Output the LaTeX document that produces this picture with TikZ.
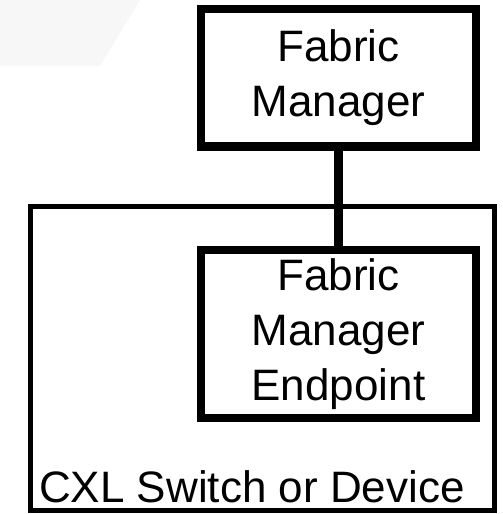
\documentclass[tikz,border=0pt]{standalone}
\usepackage{fontspec}
\setmainfont{Liberation Sans}
\usetikzlibrary{positioning}

\begin{document}
\begin{tikzpicture}[
  x=1pt, y=-1pt,
  fmbox/.style={
    rectangle, draw=black, line width=8.5pt,
    minimum width=275pt,
    font=\fontsize{44}{55}\selectfont,
    align=center, inner sep=0pt
  },
  fmlink/.style={draw=black, line width=8.5pt}
]
\useasboundingbox (0,0) rectangle (503,514);
% faint backdrop
\fill[black!3] (0,0) -- (140,0) -- (100,66) -- (0,66) -- cycle;

% outer switch box
\draw[line width=5pt] (30,206) rectangle (494.5,510.5);
\node[font=\fontsize{44}{55}\selectfont, anchor=base west, inner sep=0pt]
  (cxl) at (39,502) {CXL Switch or Device};

\node[fmbox, minimum height=137.5pt] (fm)  at (338.5,77.75)  {Fabric\\Manager};
\node[fmbox, minimum height=168pt]   (fme) at (338.5,334)    {Fabric\\Manager\\Endpoint};

\draw[fmlink] (fm) -- (fme);
\end{tikzpicture}
\end{document}
